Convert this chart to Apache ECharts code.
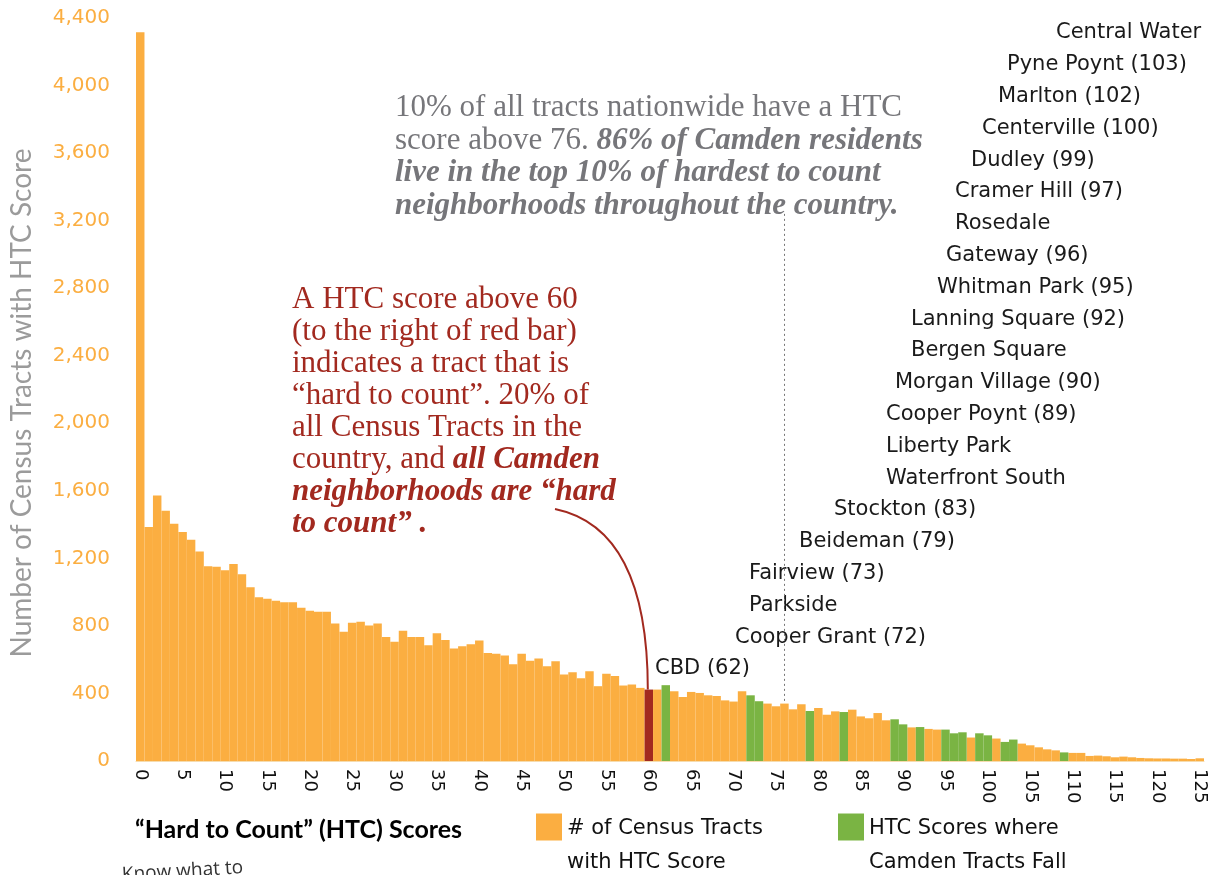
<!DOCTYPE html>
<html>
<head>
<meta charset="utf-8">
<title>Hard to Count Scores</title>
<script src="https://cdn.jsdelivr.net/npm/echarts@6/dist/echarts.min.js"></script>
<style>
html, body { margin: 0; padding: 0; background: #fff; }
#main { width: 1210px; height: 875px; }
</style>
</head>
<body>
<div id="main"></div>
<script>
// HTC 分数 0..125
var scores = [];
for (var s = 0; s <= 125; s++) scores.push(String(s));

// 每个分数对应的普查区数量
var tractCounts = [
    4315, 1385, 1573, 1482, 1405, 1356, 1310, 1240, 1154, 1150,
    1130, 1167, 1106, 1029, 969, 961, 949, 940, 940, 908,
    890, 884, 884, 815, 765, 819, 825, 803, 815, 734,
    706, 771, 734, 734, 686, 756, 716, 666, 680, 692,
    714, 639, 635, 625, 573, 635, 593, 607, 561, 591,
    512, 526, 490, 532, 443, 516, 504, 447, 453, 433,
    423, 423, 449, 413, 379, 409, 403, 389, 385, 359,
    352, 413, 389, 354, 340, 324, 340, 306, 336, 296,
    314, 274, 294, 290, 304, 264, 253, 284, 241, 247,
    217, 199, 201, 190, 186, 186, 164, 170, 139, 164,
    152, 133, 113, 127, 103, 93, 81, 69, 63, 51,
    48, 48, 30, 32, 28, 22, 26, 22, 18, 16,
    15, 15, 14, 14, 12, 16
];

// Camden 普查区所在的分数
var camdenScores = [62, 72, 73, 79, 83, 89, 90, 92, 95, 96, 97, 99, 100, 102, 103, 109];
// 红色分界线
var hardToCountScore = 60;
// 全国前 10% 分数线
var top10Score = 76;
var top10LineTop = 3240;

// y 轴
var yMax = 4400;
var yStep = 400;

// 街区名称（从上到下）
var neighborhoods = [
    'Central Water', 'Pyne Poynt (103)', 'Marlton (102)', 'Centerville (100)',
    'Dudley (99)', 'Cramer Hill (97)', 'Rosedale', 'Gateway (96)',
    'Whitman Park (95)', 'Lanning Square (92)', 'Bergen Square', 'Morgan Village (90)',
    'Cooper Poynt (89)', 'Liberty Park', 'Waterfront South', 'Stockton (83)',
    'Beideman (79)', 'Fairview (73)', 'Parkside', 'Cooper Grant (72)', 'CBD (62)'
];
// 标签左边的 x 位置
var nbLeft = [1056, 1007, 998, 982, 971, 955, 955, 946, 937, 911, 911, 895, 886, 886, 886, 834, 799, 749, 749, 735, 655];

var ORANGE = '#FBAE41';
var GREEN = '#7AB443';
var RED = '#A2291F';
var SANS = '"DejaVu Sans", sans-serif';
var SERIF = '"Liberation Serif", "DejaVu Serif", serif';

var orangeData = [];
var greenData = [];
tractCounts.forEach(function (v, i) {
    if (camdenScores.indexOf(i) >= 0) {
        orangeData.push('-');
        greenData.push(v);
    } else {
        orangeData.push(i === hardToCountScore ? { value: v, itemStyle: { color: RED } } : v);
        greenData.push('-');
    }
});

var main = document.getElementById('main');
var myChart = echarts.init(main);

// 图例文字：上面加一行空白，让色块对齐第一行
var legendText = {
    color: '#111',
    fontSize: 21,
    fontFamily: SANS,
    rich: {
        e: { fontSize: 10, lineHeight: 37 },
        a: { fontSize: 21, fontFamily: SANS, color: '#111', lineHeight: 34 }
    }
};
function legendFormat(name) {
    var parts = name.split('\n');
    return '{e| }\n{a|' + parts[0] + '}\n{a|' + parts[1] + '}';
}

var option = {
    animation: false,
    grid: { left: 136, right: 6, top: 18, bottom: 114 },
    legend: [
        {
            data: ['# of Census Tracts\nwith HTC Score'],
            left: 531, top: 783,
            icon: 'rect', itemWidth: 26, itemHeight: 27, itemGap: 14,
            formatter: legendFormat,
            textStyle: legendText,
            selectedMode: false
        },
        {
            data: ['HTC Scores where\nCamden Tracts Fall'],
            left: 833, top: 783,
            icon: 'rect', itemWidth: 26, itemHeight: 27, itemGap: 14,
            formatter: legendFormat,
            textStyle: legendText,
            selectedMode: false
        }
    ],
    xAxis: {
        type: 'category',
        data: scores,
        axisLine: { show: true, lineStyle: { color: '#f6dcae', width: 1 } },
        axisTick: { show: false },
        axisLabel: {
            interval: 4,
            rotate: -90,
            margin: 8,
            color: '#111',
            fontSize: 18,
            fontFamily: SANS
        }
    },
    yAxis: {
        type: 'value',
        min: 0,
        max: yMax,
        interval: yStep,
        splitLine: { show: false },
        axisLine: { show: false },
        axisTick: { show: false },
        axisLabel: {
            margin: 26,
            color: ORANGE,
            fontSize: 20,
            fontFamily: SANS,
            formatter: function (v) { return v.toLocaleString('en-US'); }
        }
    },
    series: [
        {
            name: '# of Census Tracts\nwith HTC Score',
            type: 'bar',
            stack: 'htc',
            barCategoryGap: '0%',
            itemStyle: { color: ORANGE },
            data: orangeData,
            markLine: {
                silent: true,
                symbol: 'none',
                label: { show: false },
                lineStyle: { color: '#777', type: [2, 3], width: 1 },
                data: [[
                    { coord: [String(top10Score), top10LineTop] },
                    { coord: [String(top10Score), tractCounts[top10Score]] }
                ]]
            }
        },
        {
            name: 'HTC Scores where\nCamden Tracts Fall',
            type: 'bar',
            stack: 'htc',
            barCategoryGap: '0%',
            itemStyle: { color: GREEN },
            data: greenData
        }
    ]
};
myChart.setOption(option);

// 红线终点：红色柱的顶端
var redTop = myChart.convertToPixel({ seriesIndex: 0 }, [String(hardToCountScore), tractCounts[hardToCountScore]]);

var graphics = [];

// y 轴标题
graphics.push({
    type: 'text',
    x: 22,
    y: 403,
    rotation: Math.PI / 2,
    style: {
        text: 'Number of Census Tracts with HTC Score',
        fill: '#9b9b9b',
        font: '28px Lato, sans-serif',
        align: 'center',
        verticalAlign: 'middle'
    }
});

neighborhoods.forEach(function (name, i) {
    graphics.push({
        type: 'text',
        x: nbLeft[i],
        y: 33 + i * 31.8,
        style: { text: name, fill: '#1a1a1a', font: '21px ' + SANS, verticalAlign: 'middle' }
    });
});

// 灰色说明文字
graphics.push({
    type: 'text',
    left: 395,
    top: 92,
    style: {
        text: '10% of all tracts nationwide have a HTC\nscore above 76. {b|86% of Camden residents}\n{b|live in the top 10% of hardest to count}\n{b|neighborhoods throughout the country.}',
        fill: '#76767a',
        fontSize: 31,
        fontFamily: SERIF,
        lineHeight: 32.5,
        rich: {
            b: { fontSize: 31, fontFamily: SERIF, fontStyle: 'italic', fontWeight: 'bold', fill: '#76767a', lineHeight: 32.5 }
        }
    }
});

// 红色说明文字
graphics.push({
    type: 'text',
    left: 292,
    top: 284,
    style: {
        text: 'A HTC score above 60\n(to the right of red bar)\nindicates a tract that is\n\u201chard to count\u201d. 20% of\nall Census Tracts in the\ncountry, and {b|all Camden}\n{b|neighborhoods are \u201chard}\n{b|to count\u201d .}',
        fill: RED,
        fontSize: 31,
        fontFamily: SERIF,
        lineHeight: 32,
        rich: {
            b: { fontSize: 31, fontFamily: SERIF, fontStyle: 'italic', fontWeight: 'bold', fill: RED, lineHeight: 32 }
        }
    }
});

// 红色弧线
graphics.push({
    type: 'bezierCurve',
    shape: {
        x1: 555, y1: 509,
        cpx1: 618, cpy1: 522,
        cpx2: redTop[0] - 1, cpy2: 585,
        x2: redTop[0] - 1, y2: redTop[1]
    },
    style: { stroke: RED, lineWidth: 2, fill: null }
});

// x 轴标题
graphics.push({
    type: 'text',
    x: 135,
    y: 830,
    style: { text: '\u201cHard to Count\u201d (HTC) Scores', fill: '#000', font: 'bold 25px Lato, sans-serif', verticalAlign: 'middle' }
});

// 底部被截掉的文字
graphics.push({
    type: 'text',
    x: 122,
    y: 875,
    rotation: 0.06,
    style: { text: 'Know what to', fill: '#333', font: '19px "Open Sans", sans-serif', verticalAlign: 'middle' }
});

myChart.setOption({ graphic: graphics });
</script>
</body>
</html>
